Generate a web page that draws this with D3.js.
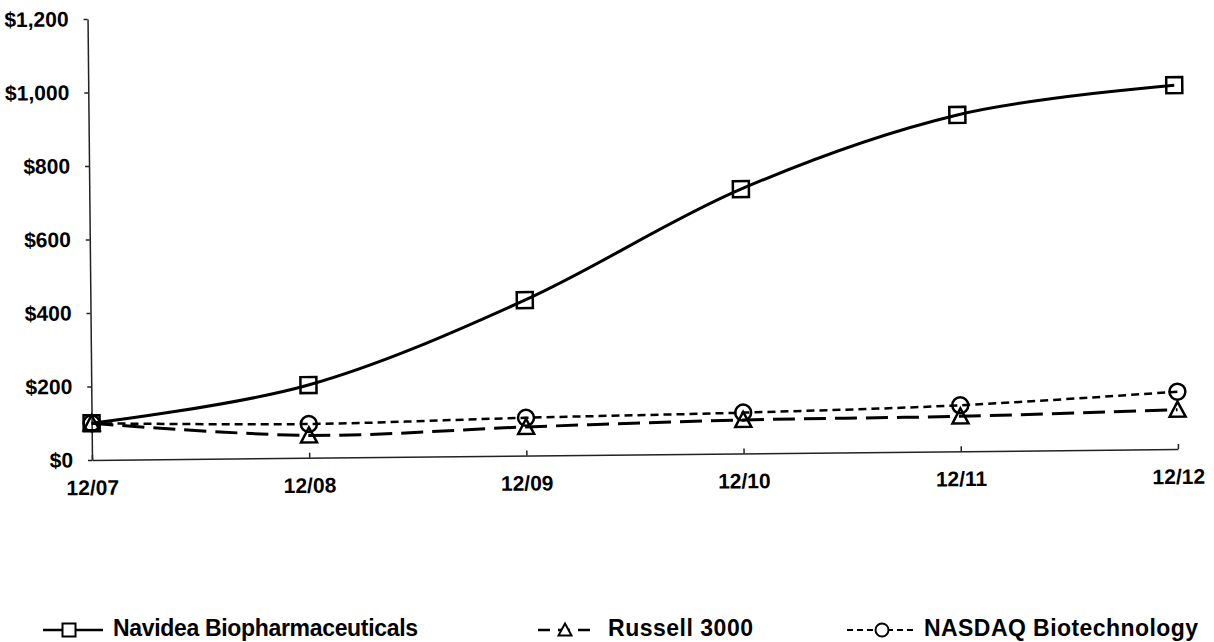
<!DOCTYPE html>
<html lang="en">
<head>
  <meta charset="UTF-8">
  <title>Cumulative total return</title>
  <style>
    body {
      margin: 0;
      background: #fff;
    }
    svg text {
      font-family: "Liberation Sans", Arial, sans-serif;
      font-weight: bold;
      fill: #000;
    }
    .axis path, .axis line {
      stroke: #222;
      stroke-width: 1.5;
    }
  </style>
</head>
<body>
  <svg></svg>
</body>
<script src="https://cdn.jsdelivr.net/npm/d3@7"></script>
<script>
  var width = 1214
  var height = 642

  var periods = ['12/07', '12/08', '12/09', '12/10', '12/11', '12/12']
  var navidea = [100, 198, 423, 719, 915, 990]
  var russell = [100, 61, 78, 91, 95, 107]
  var nasdaq = [100, 92, 103, 111, 125, 156]
  var yTicks = [0, 200, 400, 600, 800, 1000, 1200]

  var series = [
    {name: 'Navidea Biopharmaceuticals', values: navidea, dash: null, width: 3, marker: 'square'},
    {name: 'Russell 3000', values: russell, dash: '22,9', width: 3, marker: 'triangle'},
    {name: 'NASDAQ Biotechnology', values: nasdaq, dash: '8,5', width: 2.5, marker: 'circle'}
  ]

  var svg = d3.select('svg')
    .attr('width', width)
    .attr('height', height)

  svg.append('rect')
    .attr('width', width)
    .attr('height', height)
    .attr('fill', '#fff')

  var x = d3.scalePoint().domain(periods).range([92, 1178])
  var y = d3.scaleLinear().domain([0, 1200]).range([460, 19])

  // the scan is slightly tilted, so the plot is too
  var plot = svg.append('g')
    .attr('transform', 'rotate(-0.58, 92, 460)')

  plot.append('g')
    .attr('class', 'axis')
    .attr('transform', 'translate(92,0)')
    .call(d3.axisLeft(y)
      .tickValues(yTicks)
      .tickSize(4)
      .tickSizeOuter(0)
      .tickPadding(15)
      .tickFormat(d => '$' + d3.format(',')(d)))
    .call(g => g.selectAll('text').style('font-size', '21px'))

  plot.append('g')
    .attr('class', 'axis')
    .attr('transform', 'translate(0,460)')
    .call(d3.axisBottom(x)
      .tickSize(-5)
      .tickSizeOuter(0)
      .tickPadding(15))
    .call(g => g.selectAll('text')
      .style('font-size', '21px')
      .attr('dy', '0.95em'))

  var line = d3.line()
    .x((d, i) => x(periods[i]))
    .y(d => y(d))
    .curve(d3.curveCardinal)

  function drawMarker(g, type, cx, cy, s) {
    if (type === 'square') {
      g.append('rect')
        .attr('x', cx - s / 2).attr('y', cy - s / 2)
        .attr('width', s).attr('height', s)
    } else if (type === 'circle') {
      g.append('circle')
        .attr('cx', cx).attr('cy', cy).attr('r', s / 2)
    } else {
      g.append('path')
        .attr('d', `M${cx},${cy - s / 2}L${cx + s / 2},${cy + s / 2 - 1}L${cx - s / 2},${cy + s / 2 - 1}Z`)
    }
  }

  series.forEach(s => {
    plot.append('path')
      .datum(s.values)
      .attr('d', line)
      .attr('fill', 'none')
      .attr('stroke', '#000')
      .attr('stroke-width', s.width)
      .attr('stroke-dasharray', s.dash)

    var mg = plot.append('g')
      .attr('fill', 'none')
      .attr('stroke', '#000')
      .attr('stroke-width', 2.5)
    s.values.forEach((v, i) => drawMarker(mg, s.marker, x(periods[i]), y(v), 16))
  })

  // legend
  var legendItems = [
    {x1: 43, x2: 103, mx: 69, tx: 113, tw: 305},
    {x1: 538, x2: 598, mx: 565, tx: 608, tw: 145},
    {x1: 847, x2: 917, mx: 882, tx: 924, tw: 274}
  ]

  var legend = svg.append('g')
  series.forEach((s, i) => {
    var li = legendItems[i]
    legend.append('line')
      .attr('x1', li.x1).attr('x2', li.x2)
      .attr('y1', 630).attr('y2', 630)
      .attr('stroke', '#000')
      .attr('stroke-width', s.width - 0.5)
      .attr('stroke-dasharray', s.dash ? (i === 1 ? '12,8' : '6,4') : null)
    var mg = legend.append('g')
      .attr('fill', '#fff')
      .attr('stroke', '#000')
      .attr('stroke-width', 2)
    drawMarker(mg, s.marker, li.mx, 630, 13)
    legend.append('text')
      .attr('x', li.tx)
      .attr('y', 628)
      .attr('dy', '0.36em')
      .attr('textLength', li.tw)
      .attr('lengthAdjust', 'spacing')
      .style('font-size', '23px')
      .text(s.name)
  })
</script>
</html>
